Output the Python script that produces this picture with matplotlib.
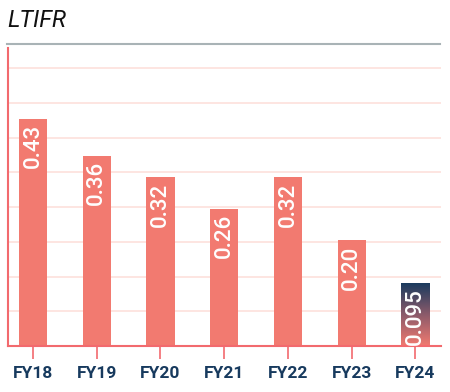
import numpy as np
import matplotlib.pyplot as plt
from matplotlib.lines import Line2D
from matplotlib.colors import LinearSegmentedColormap

years = ["FY18", "FY19", "FY20", "FY21", "FY22", "FY23", "FY24"]
heights = [0.43, 0.36, 0.32, 0.26, 0.32, 0.20, 0.12]   # drawn bar heights
labels = ["0.43", "0.36", "0.32", "0.26", "0.32", "0.20", "0.095"]

bar_col = "#f27a70"
red = "#f26a6e"
navy = "#173a5e"

plt.rcParams['font.family'] = ['Roboto', 'DejaVu Sans']

fig = plt.figure(figsize=(4.5, 3.92), dpi=100)
ax = fig.add_axes([0.018, 0.117, 0.962, 0.761])

x = np.arange(len(years))
ax.bar(x[:-1], heights[:-1], width=0.44, color=bar_col, zorder=2)

# last bar with a gradient navy -> salmon
last = ax.bar(x[-1], heights[-1], width=0.44, color="none", zorder=2)[0]
grad = np.linspace(0, 1, 256).reshape(-1, 1)
cmap = LinearSegmentedColormap.from_list("g", [bar_col, "#8a5a6a", navy])
im = ax.imshow(grad, cmap=cmap, aspect="auto", origin="lower",
               extent=[x[-1] - 0.22, x[-1] + 0.22, 0, heights[-1]], zorder=2)
im.set_clip_path(last)

for xi, h, lab in zip(x, heights, labels):
    ax.annotate(lab, (xi, h), xytext=(0, -4), textcoords="offset points",
                ha="center", va="top", rotation=90, color="white",
                fontsize=16, fontweight="medium", zorder=3)

ax.set_xlim(-0.39, 6.4)
ax.set_ylim(0, 0.564)
ax.set_yticks(np.arange(1, 9) * 0.0657)
ax.yaxis.grid(True, color="#fde0dc", linewidth=1.2, zorder=0)
ax.tick_params(axis="y", length=0, labelleft=False)
ax.set_xticks(x)
ax.set_xticklabels(years, fontsize=12.5, color=navy, fontweight="bold")
ax.tick_params(axis="x", length=9, width=1.2, color=red, pad=5)

for s in ["top", "right"]:
    ax.spines[s].set_visible(False)
ax.spines["left"].set_color(red)
ax.spines["bottom"].set_color(red)
ax.spines["left"].set_linewidth(1.5)
ax.spines["bottom"].set_linewidth(1.5)

fig.text(0.016, 0.947, "LTIFR", fontsize=17, style="italic", color="#111111",
         va="center", ha="left")
fig.add_artist(Line2D([0.016, 0.978], [0.888, 0.888], color="#a9b3b6", linewidth=1.5))

fig.savefig("out.png", dpi=100)
